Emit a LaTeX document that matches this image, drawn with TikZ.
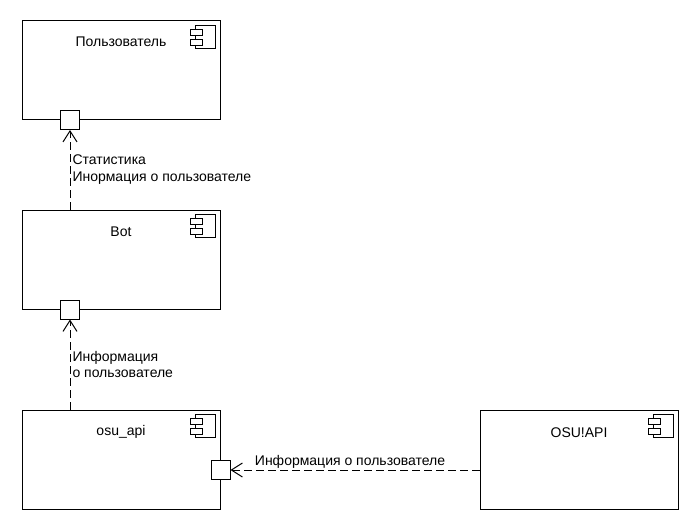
\documentclass[tikz,border=0pt]{standalone}
\usepackage{fontspec}
\setmainfont{Liberation Sans}
\usetikzlibrary{arrows.meta, calc, positioning}

\tikzset{
  comp/.style={draw, line width=1pt, minimum width=198pt, minimum height=99pt, inner sep=0pt},
  port/.style={draw, line width=1pt, fill=white, minimum size=19pt, inner sep=0pt},
  dep/.style={line width=1pt, dash pattern=on 8pt off 4pt, -{Straight Barb[length=11pt,width=14pt]}},
  lbl/.style={font=\fontsize{14}{16.5}\selectfont, align=left, inner sep=2pt}
}

\begin{document}
\begin{tikzpicture}[x=1pt, y=-1pt]
        \useasboundingbox (0,0) rectangle (700,530);

% Components
        \node[comp] (user) at (121,70) {};
        \node[comp] (bot) at (121,259.5) {};
        \node[comp] (osuapi) at (121,459.5) {};
        \node[comp] (osuweb) at (579,459.5) {};

        \node[lbl] (userName) at ($(user.north)+(0,22)$) {Пользователь};
        \node[lbl] (botName) at ($(bot.north)+(0,22)$) {Bot};
        \node[lbl] (osuapiName) at ($(osuapi.north)+(0,22)$) {osu\_api};
        \node[lbl] (osuwebName) at ($(osuweb.north)+(0,23)$) {OSU!API};

% Component icons
        \foreach \c in {user,bot,osuapi,osuweb} {
          \draw[line width=1pt] ($(\c.north east)+(-25,5)$) rectangle ($(\c.north east)+(-5,28)$);
          \draw[line width=1pt, fill=white] ($(\c.north east)+(-30,9)$) rectangle ($(\c.north east)+(-18,15)$);
          \draw[line width=1pt, fill=white] ($(\c.north east)+(-30,19)$) rectangle ($(\c.north east)+(-18,25)$);
        }

% Ports
        \node[port] (userPort) at ($(user.south west)+(48.5,0)$) {};
        \node[port] (botPort) at ($(bot.south west)+(48.5,0)$) {};
        \node[port] (osuapiPort) at ($(osuapi.east)+(0,10.5)$) {};

% Dependencies
        \draw[dep] (userPort.south |- bot.north) -- node[lbl, right, midway] {Статистика\\Инормация о пользователе} (userPort.south);
        \draw[dep] (botPort.south |- osuapi.north) -- node[lbl, right, midway] {Информация\\о пользователе} (botPort.south);
        \draw[dep] (osuweb.west |- osuapiPort.east) -- node[lbl, above, midway, inner sep=1pt, xshift=-5pt] {Информация о пользователе} (osuapiPort.east);

      \end{tikzpicture}
\end{document}
